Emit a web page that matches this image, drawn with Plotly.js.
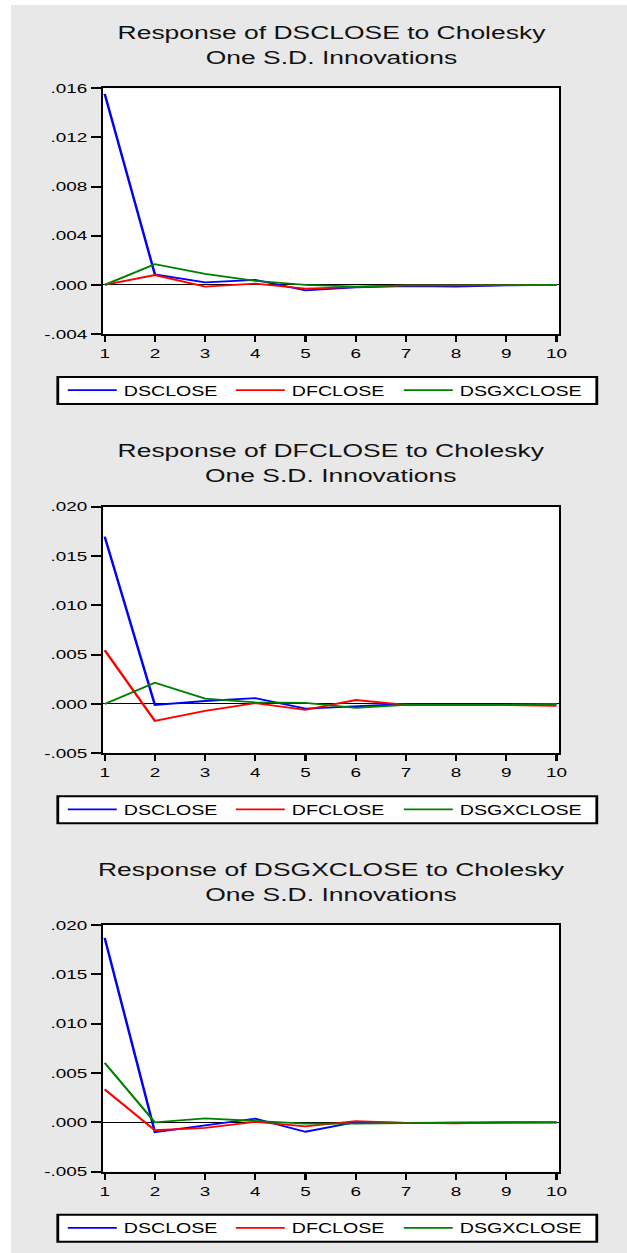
<!DOCTYPE html>
<html><head><meta charset="utf-8">
<script src="https://cdn.plot.ly/plotly-3.0.1.min.js"></script>
<style>
html,body{margin:0;padding:0;overflow:hidden;background:#fff;}
#wrap{width:448px;height:1253px;transform:scaleX(1.4);transform-origin:0 0;}
</style></head><body><div id="wrap"></div>
<script>
// ---- data ----
const periods = [1,2,3,4,5,6,7,8,9,10];
const seriesNames = ['DSCLOSE','DFCLOSE','DSGXCLOSE'];
const panelTitles = [
  'Response of DSCLOSE to Cholesky<br>One S.D. Innovations',
  'Response of DFCLOSE to Cholesky<br>One S.D. Innovations',
  'Response of DSGXCLOSE to Cholesky<br>One S.D. Innovations'
];
// Panel 1: response of DSCLOSE
const p1_DSCLOSE   = [0.01555, 0.00085, 0.0002, 0.0004, -0.00045, -0.0002, -0.0001, -0.00015, -0.00005, 0];
const p1_DFCLOSE   = [0, 0.0008, -0.00015, 0.0001, -0.0003, -0.0002, -0.00005, -0.00005, 0, 0];
const p1_DSGXCLOSE = [0, 0.00168, 0.0009, 0.00032, 0, -0.00015, -0.00005, -0.00003, 0, 0];
// Panel 2: response of DFCLOSE
const p2_DSCLOSE   = [0.01697, -0.0001, 0.0003, 0.00059, -0.00048, -0.00025, 0, -0.00003, 0, 0];
const p2_DFCLOSE   = [0.00545, -0.00172, -0.0007, 0.00008, -0.0006, 0.0004, -0.0001, -0.0001, -0.0001, -0.0002];
const p2_DSGXCLOSE = [0, 0.00215, 0.00055, 0.00017, 0.00012, -0.0004, -0.0001, -0.0001, -0.0001, 0];
// Panel 3: response of DSGXCLOSE
const p3_DSCLOSE   = [0.01869, -0.001, -0.0003, 0.00038, -0.00095, 0.00003, -0.00005, -0.00005, 0, 0];
const p3_DFCLOSE   = [0.00334, -0.0008, -0.00055, 0.00005, -0.0004, 0.00012, -0.00005, -0.0001, 0, 0];
const p3_DSGXCLOSE = [0.00603, 0, 0.0004, 0.00015, -0.00012, -0.00012, -0.00005, -0.00003, 0, 0];

const yTicks1 = [-0.004, 0, 0.004, 0.008, 0.012, 0.016];
const yTickText1 = ['-.004', '.000', '.004', '.008', '.012', '.016'];
const yTicks23 = [-0.005, 0, 0.005, 0.010, 0.015, 0.020];
const yTickText23 = ['-.005', '.000', '.005', '.010', '.015', '.020'];
const yRange1 = [-0.004, 0.016];
const yRange23 = [-0.005, 0.020];

// ---- geometry (output pixels; page stretched horizontally by S) ----
const S = 1.4, W = 448, H = 1253;
const fx = x => x / S / W;
const fy = y => 1 - y / H;
const frameL = 103, frameR = 559.3;
const frames = [[88.3, 334], [506.7, 753.3], [925, 1171.7]];
const colors = ['#0000ff', '#ff0000', '#008000'];
const FONT = '"Liberation Sans", Arial, sans-serif';

const panelData = [
  [p1_DSCLOSE, p1_DFCLOSE, p1_DSGXCLOSE],
  [p2_DSCLOSE, p2_DFCLOSE, p2_DSGXCLOSE],
  [p3_DSCLOSE, p3_DFCLOSE, p3_DSGXCLOSE]
];

const traces = [];
panelData.forEach((set, p) => {
  set.forEach((vals, k) => {
    traces.push({
      x: periods, y: vals, type: 'scatter', mode: 'lines',
      name: seriesNames[k],
      line: {color: colors[k], width: 1.8},
      xaxis: p === 0 ? 'x' : 'x' + (p + 1),
      yaxis: p === 0 ? 'y' : 'y' + (p + 1),
      legend: p === 0 ? 'legend' : 'legend' + (p + 1),
      legendwidth: k === 2 ? 100 : 70,
      showlegend: true
    });
  });
});

const layout = {
  width: W, height: H,
  margin: {l: 0, r: 0, t: 0, b: 0},
  paper_bgcolor: '#e8e8e8',
  plot_bgcolor: '#ffffff',
  font: {family: FONT, color: '#000', size: 13.5},
  annotations: [],
  shapes: [
    {type: 'rect', xref: 'paper', yref: 'paper', x0: 0, x1: fx(11), y0: 0, y1: 1, fillcolor: '#fff', line: {width: 0}, layer: 'below'},
    {type: 'rect', xref: 'paper', yref: 'paper', x0: 0, x1: 1, y0: fy(5), y1: 1, fillcolor: '#fff', line: {width: 0}, layer: 'below'}
  ]
};

frames.forEach((fr, p) => {
  const sfx = p === 0 ? '' : String(p + 1);
  const isFirst = p === 0;
  layout['xaxis' + sfx] = {
    domain: [fx(frameL), fx(frameR)],
    anchor: 'y' + sfx,
    range: [0.966, 10.056],
    tickvals: periods,
    ticktext: periods.map(String),
    ticks: 'outside', ticklen: 6, tickwidth: 1.5, tickcolor: '#000',
    showline: true, mirror: true, linecolor: '#000', linewidth: 2,
    showgrid: false, zeroline: false,
    tickfont: {size: 13.5, color: '#000', family: FONT},
    fixedrange: true
  };
  layout['yaxis' + sfx] = {
    domain: [fy(fr[1]), fy(fr[0])],
    anchor: 'x' + sfx,
    range: isFirst ? yRange1 : yRange23,
    tickvals: isFirst ? yTicks1 : yTicks23,
    ticktext: isFirst ? yTickText1 : yTickText23,
    ticks: 'outside', ticklen: 7, tickwidth: 2, tickcolor: '#000',
    ticklabelstandoff: 2.5,
    showline: true, mirror: true, linecolor: '#000', linewidth: 1.5,
    showgrid: false,
    zeroline: true, zerolinecolor: '#000', zerolinewidth: 1,
    tickfont: {size: 13.5, color: '#000', family: FONT},
    fixedrange: true
  };
  layout.annotations.push({
    xref: 'paper', yref: 'paper',
    x: fx((frameL + frameR) / 2), y: fy(fr[0] - 43.3),
    xanchor: 'center', yanchor: 'middle',
    text: panelTitles[p], showarrow: false,
    font: {size: 18.9, color: '#111', family: FONT}
  });
  const bTop = fr[1] + 43, bBot = fr[1] + 70;
  layout.shapes.push({
    type: 'rect', xref: 'paper', yref: 'paper',
    x0: fx(57.8), x1: fx(596.8), y0: fy(bBot), y1: fy(bTop),
    fillcolor: '#fff', line: {color: '#000', width: 2}, layer: 'above'
  });
  layout['legend' + sfx] = {
    orientation: 'h',
    x: fx(60.8), xanchor: 'left',
    y: fy((bTop + bBot) / 2), yanchor: 'middle',
    bgcolor: 'rgba(0,0,0,0)', borderwidth: 0,
    itemwidth: 35, entrywidthmode: 'pixels',
    font: {size: 14, color: '#000', family: FONT},
    itemclick: false, itemdoubleclick: false
  };
});

Plotly.newPlot('wrap', traces, layout, {staticPlot: true, displayModeBar: false});
</script>
</body></html>
